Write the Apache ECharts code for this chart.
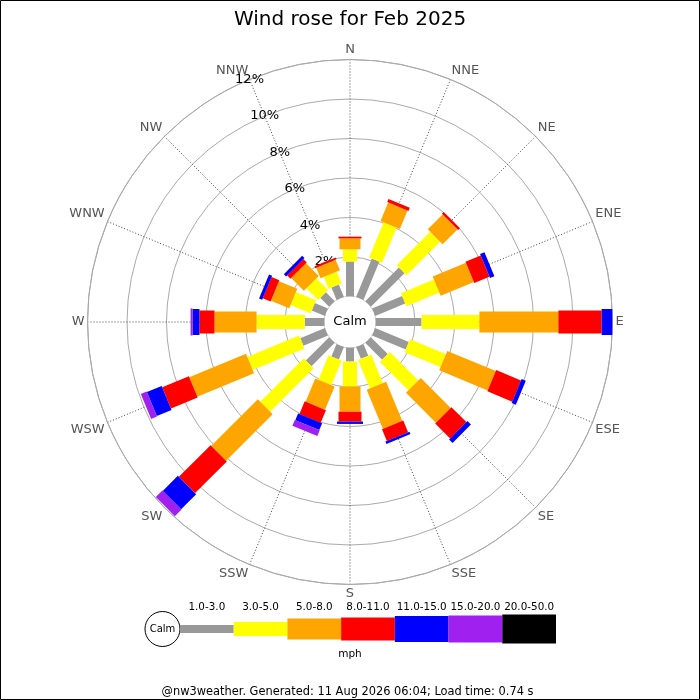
<!DOCTYPE html>
<html><head><meta charset="utf-8">
<script src="https://cdn.jsdelivr.net/npm/echarts@6/dist/echarts.min.js"></script>
<style>html,body{margin:0;padding:0;background:#fff}#chart{width:700px;height:700px}</style>
</head><body><div id="chart"></div>
<script>
// ---- data ----
const directions = ['N','NNE','NE','ENE','E','ESE','SE','SSE','S','SSW','SW','WSW','W','WNW','NW','NNW'];
const speedBins = ['1.0-3.0','3.0-5.0','5.0-8.0','8.0-11.0','11.0-15.0','15.0-20.0','20.0-50.0'];
// percent of the month, per direction (N..NNW), for each speed band (mph)
const pct_1_3   = [1.77,2.10,2.41,1.65,2.33,1.85,1.21,0.64,0.71,0.68,1.67,1.35,1.00,0.72,0.64,0.68];
const pct_3_5   = [0.62,1.93,2.40,1.81,2.93,1.97,2.04,1.56,1.27,1.34,3.11,2.84,2.44,1.10,0.84,0.64];
const pct_5_8   = [0.55,1.01,1.06,1.82,4.00,2.66,2.14,2.15,1.27,1.28,3.33,3.11,2.13,1.00,0.91,0.58];
const pct_8_11  = [0.09,0.17,0.13,0.83,2.19,1.36,1.07,0.64,0.50,0.69,2.27,1.46,0.76,0.43,0.24,0.10];
const pct_11_15 = [0.00,0.00,0.00,0.24,0.54,0.23,0.25,0.13,0.12,0.37,1.08,0.81,0.35,0.17,0.16,0.00];
const pct_15_20 = [0.00,0.00,0.00,0.00,0.00,0.00,0.00,0.00,0.00,0.32,0.47,0.32,0.10,0.00,0.00,0.00];
const pct_20_50 = [0.00,0.00,0.00,0.00,0.00,0.00,0.00,0.00,0.00,0.00,0.00,0.00,0.00,0.00,0.00,0.00];
const ringTicks = [2,4,6,8,10,12];
const titleText = 'Wind rose for Feb 2025';
const footerText = '@nw3weather. Generated: 11 Aug 2026 06:04; Load time: 0.74 s';
const unitText = 'mph';

// ---- styles ----
const bands = [pct_1_3, pct_3_5, pct_5_8, pct_8_11, pct_11_15, pct_15_20, pct_20_50];
const bandColors = ['#999999','#ffff00','#ffa500','#ff0000','#0000ff','#a020f0','#000000'];
const bandWidths = [8,14,21,23,26,27,29];
const FONT = 'DejaVu Sans';
const step = 360 / directions.length;

// cumulative stacking
const cum = directions.map(() => 0);
const bandSeries = bands.map((vals, bi) => {
  const data = vals.map((v, di) => {
    const s = cum[di];
    cum[di] = s + v;
    return [s, di * step, s + v];
  });
  const w = bandWidths[bi], color = bandColors[bi];
  return {
    type: 'custom', name: speedBins[bi], coordinateSystem: 'polar', silent: true,
    encode: {radius: [0, 2], angle: 1},
    data: data,
    renderItem: function (params, api) {
      const r1 = api.value(0), a = api.value(1), r2 = api.value(2);
      if (!(r2 - r1 > 0)) return null;
      const p1 = api.coord([r1, a]), p2 = api.coord([r2, a]);
      const dx = p2[0] - p1[0], dy = p2[1] - p1[1];
      const len = Math.hypot(dx, dy) || 1;
      const nx = -dy / len * w / 2, ny = dx / len * w / 2;
      return {
        type: 'polygon',
        shape: {points: [[p1[0]+nx, p1[1]+ny],[p2[0]+nx, p2[1]+ny],[p2[0]-nx, p2[1]-ny],[p1[0]-nx, p1[1]-ny]]},
        style: {fill: color}
      };
    }
  };
});

const ringLabelSeries = {
  type: 'custom', coordinateSystem: 'polar', silent: true,
  encode: {radius: 0, angle: 1},
  data: ringTicks.map(t => [t, 15 * step]),
  renderItem: function (params, api) {
    const p = api.coord([api.value(0), api.value(1)]);
    return {type: 'text', x: p[0], y: p[1],
      style: {text: api.value(0) + '%', align: 'center', verticalAlign: 'middle',
              fontSize: 13, fontFamily: FONT, fill: '#000'}};
  }
};

const calmSeries = {
  type: 'custom', coordinateSystem: 'polar', silent: true,
  encode: {radius: 0, angle: 1},
  data: [[0, 0]],
  renderItem: function (params, api) {
    const a = api.coord([0, 0]), b = api.coord([0, 180]);
    const cx = (a[0] + b[0]) / 2, cy = (a[1] + b[1]) / 2;
    const r0 = Math.hypot(a[0] - b[0], a[1] - b[1]) / 2;
    return {type: 'group', children: [
      {type: 'circle', shape: {cx: cx, cy: cy, r: r0}, style: {fill: '#fff', stroke: null}},
      {type: 'text', x: cx, y: cy, style: {text: 'Calm', align: 'center', verticalAlign: 'middle',
        fontSize: 13, fontFamily: FONT, fill: '#000'}}
    ]};
  }
};

// legend (key) graphics
const legendLeft = 180, legendRight = 556, legendY = 629;
const segW = (legendRight - legendLeft) / speedBins.length;
const legendGraphics = [];
legendGraphics.push({type: 'circle', shape: {cx: 162.5, cy: legendY, r: 17.5},
  style: {fill: '#fff', stroke: '#000', lineWidth: 1}});
legendGraphics.push({type: 'text', x: 162.5, y: legendY,
  style: {text: 'Calm', align: 'center', verticalAlign: 'middle', fontSize: 10, fontFamily: FONT, fill: '#000'}});
speedBins.forEach((lab, i) => {
  const x0 = legendLeft + i * segW;
  const h = bandWidths[i];
  legendGraphics.push({type: 'rect', shape: {x: x0, y: legendY - h / 2, width: segW, height: h},
    style: {fill: bandColors[i]}});
  legendGraphics.push({type: 'text', x: x0 + segW / 2, y: 607,
    style: {text: lab, align: 'center', verticalAlign: 'middle', fontSize: 10.4, fontFamily: FONT, fill: '#000'}});
});
legendGraphics.push({type: 'text', x: 350, y: 654,
  style: {text: unitText, align: 'center', verticalAlign: 'middle', fontSize: 10.5, fontFamily: FONT, fill: '#000'}});
legendGraphics.push({type: 'text', x: 347.5, y: 692,
  style: {text: footerText, align: 'center', verticalAlign: 'middle', fontSize: 11.4, fontFamily: FONT, fill: '#000'}});
legendGraphics.push({type: 'rect', shape: {x: 0.5, y: 0.5, width: 699, height: 699},
  style: {fill: 'none', stroke: '#000', lineWidth: 1}});

const chart = echarts.init(document.getElementById('chart'), null, {renderer: 'canvas'});
chart.setOption({
  animation: false,
  backgroundColor: '#fff',
  title: {text: titleText, left: 'center', top: 5,
    textStyle: {fontSize: 20, fontWeight: 'normal', color: '#000', fontFamily: FONT}},
  polar: {center: [350, 322], radius: [25.5, 262.5]},
  angleAxis: {
    type: 'value', min: 0, max: 360, interval: step, startAngle: 90, clockwise: true,
    axisLine: {show: true, lineStyle: {color: '#aaa', width: 1}},
    axisTick: {show: false},
    axisLabel: {show: true, margin: 3, color: '#555', fontSize: 13, fontFamily: FONT,
      formatter: v => directions[Math.round(v / step) % directions.length]},
    splitLine: {show: true, lineStyle: {color: '#444', width: 1, type: [1, 2]}}
  },
  radiusAxis: {
    type: 'value', min: 0, max: 12, interval: 2,
    axisLine: {show: false}, axisTick: {show: false}, axisLabel: {show: false},
    splitLine: {show: true, lineStyle: {width: 1,
      color: ['rgba(0,0,0,0)', '#aaa', '#aaa', '#aaa', '#aaa', '#aaa', '#aaa']}}
  },
  graphic: legendGraphics,
  series: [ringLabelSeries].concat(bandSeries).concat([calmSeries])
});
</script></body></html>
